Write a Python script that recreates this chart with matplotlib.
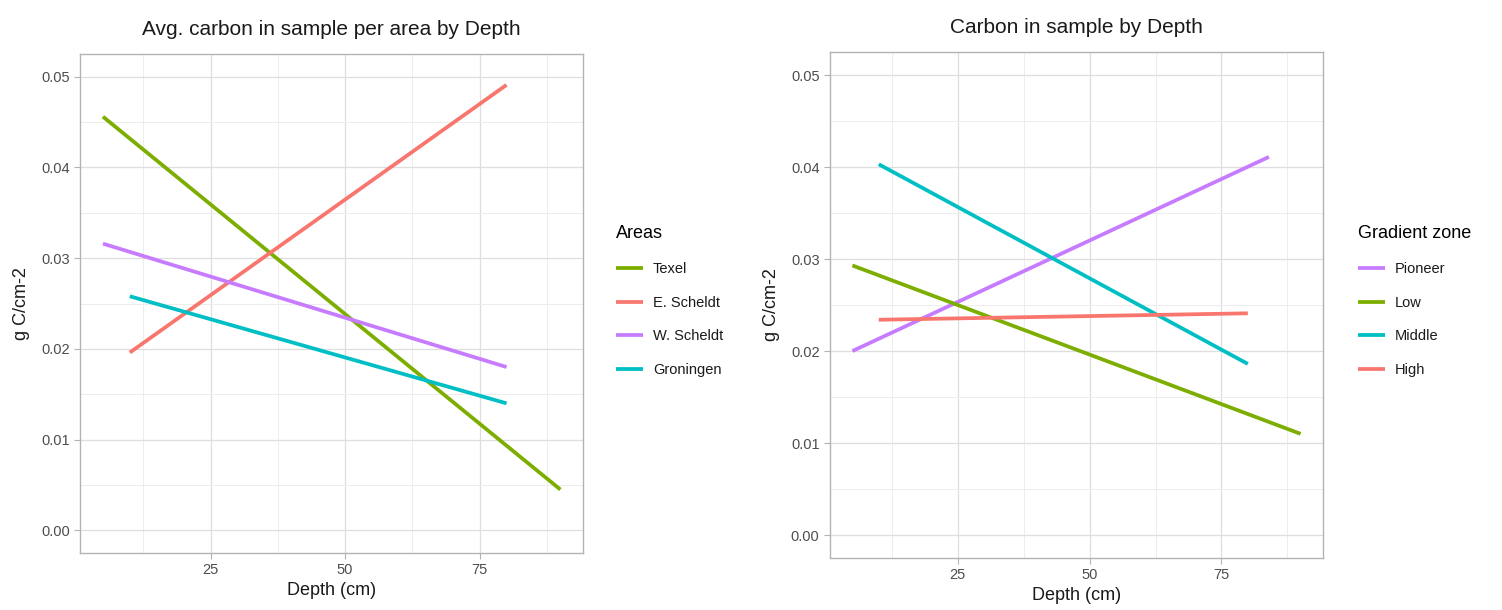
import matplotlib.pyplot as plt
from matplotlib.ticker import MultipleLocator

plt.rcParams["font.family"] = ["Liberation Sans", "DejaVu Sans"]

# Left panel: fitted lines per area (start/end depth, start/end carbon)
AREAS = ["Texel", "E. Scheldt", "W. Scheldt", "Groningen"]
AREA_DEPTH = [(5, 90), (10, 80), (5, 80), (10, 80)]
AREA_CARBON = [(0.0456, 0.0045), (0.0196, 0.0491), (0.0316, 0.0180), (0.0258, 0.0140)]
AREA_COLORS = ["#7CAE00", "#F8766D", "#C77CFF", "#00BFC4"]

# Right panel: fitted lines per gradient zone
ZONES = ["Pioneer", "Low", "Middle", "High"]
ZONE_DEPTH = [(5, 84), (5, 90), (10, 80), (10, 80)]
ZONE_CARBON = [(0.0200, 0.0411), (0.0293, 0.0110), (0.0403, 0.0186), (0.0234, 0.0241)]
ZONE_COLORS = ["#C77CFF", "#7CAE00", "#00BFC4", "#F8766D"]

X_TICKS = [25, 50, 75]
Y_TICKS = [0.00, 0.01, 0.02, 0.03, 0.04, 0.05]


def style_axes(ax, title, pad):
    ax.set_facecolor("white")
    ax.set_xlim(0.75, 94.25)
    ax.set_ylim(-0.0025, 0.0525)
    ax.set_xticks(X_TICKS)
    ax.set_yticks(Y_TICKS)
    ax.set_yticklabels([f"{v:.2f}" for v in Y_TICKS])
    ax.xaxis.set_minor_locator(MultipleLocator(12.5))
    ax.yaxis.set_minor_locator(MultipleLocator(0.005))
    ax.grid(True, which="major", color="#DEDEDE", linewidth=0.9)
    ax.grid(True, which="minor", color="#EDEDED", linewidth=0.7)
    ax.set_axisbelow(True)
    for spine in ax.spines.values():
        spine.set_color("#B3B3B3")
        spine.set_linewidth(1.0)
    ax.tick_params(which="major", colors="#B3B3B3", length=4, width=0.8,
                   labelcolor="#4D4D4D", labelsize=10.5)
    ax.tick_params(which="minor", length=0)
    ax.set_title(title, fontsize=15, color="#1A1A1A", pad=pad)
    ax.set_xlabel("Depth (cm)", fontsize=13, color="#1A1A1A", labelpad=3)
    ax.set_ylabel("g C/cm-2", fontsize=13, color="#1A1A1A", labelpad=8)


fig = plt.figure(figsize=(15.02, 6.10), dpi=100)
fig.patch.set_facecolor("white")

ax1 = fig.add_axes([0.0533, 0.0934, 0.335, 0.818])
ax2 = fig.add_axes([0.5526, 0.0852, 0.3282, 0.8295])

for name, xs, ys, col in zip(AREAS, AREA_DEPTH, AREA_CARBON, AREA_COLORS):
    ax1.plot(xs, ys, color=col, linewidth=2.7, label=name, solid_capstyle="butt")
for name, xs, ys, col in zip(ZONES, ZONE_DEPTH, ZONE_CARBON, ZONE_COLORS):
    ax2.plot(xs, ys, color=col, linewidth=2.7, label=name, solid_capstyle="butt")

style_axes(ax1, "Avg. carbon in sample per area by Depth", 14)
style_axes(ax2, "Carbon in sample by Depth", 14)

for ax, title, x0 in [(ax1, "Areas", 0.406), (ax2, "Gradient zone", 0.900)]:
    leg = fig.legend(handles=ax.get_lines(), title=title, loc="upper left",
                     bbox_to_anchor=(x0, 0.64), frameon=False, fontsize=10.5,
                     title_fontsize=13, handlelength=1.9, handletextpad=0.65,
                     labelspacing=1.35, borderaxespad=0)
    leg._legend_box.align = "left"
    for t in leg.get_texts():
        t.set_color("#1A1A1A")

fig.savefig("out.png", dpi=100, facecolor="white")
